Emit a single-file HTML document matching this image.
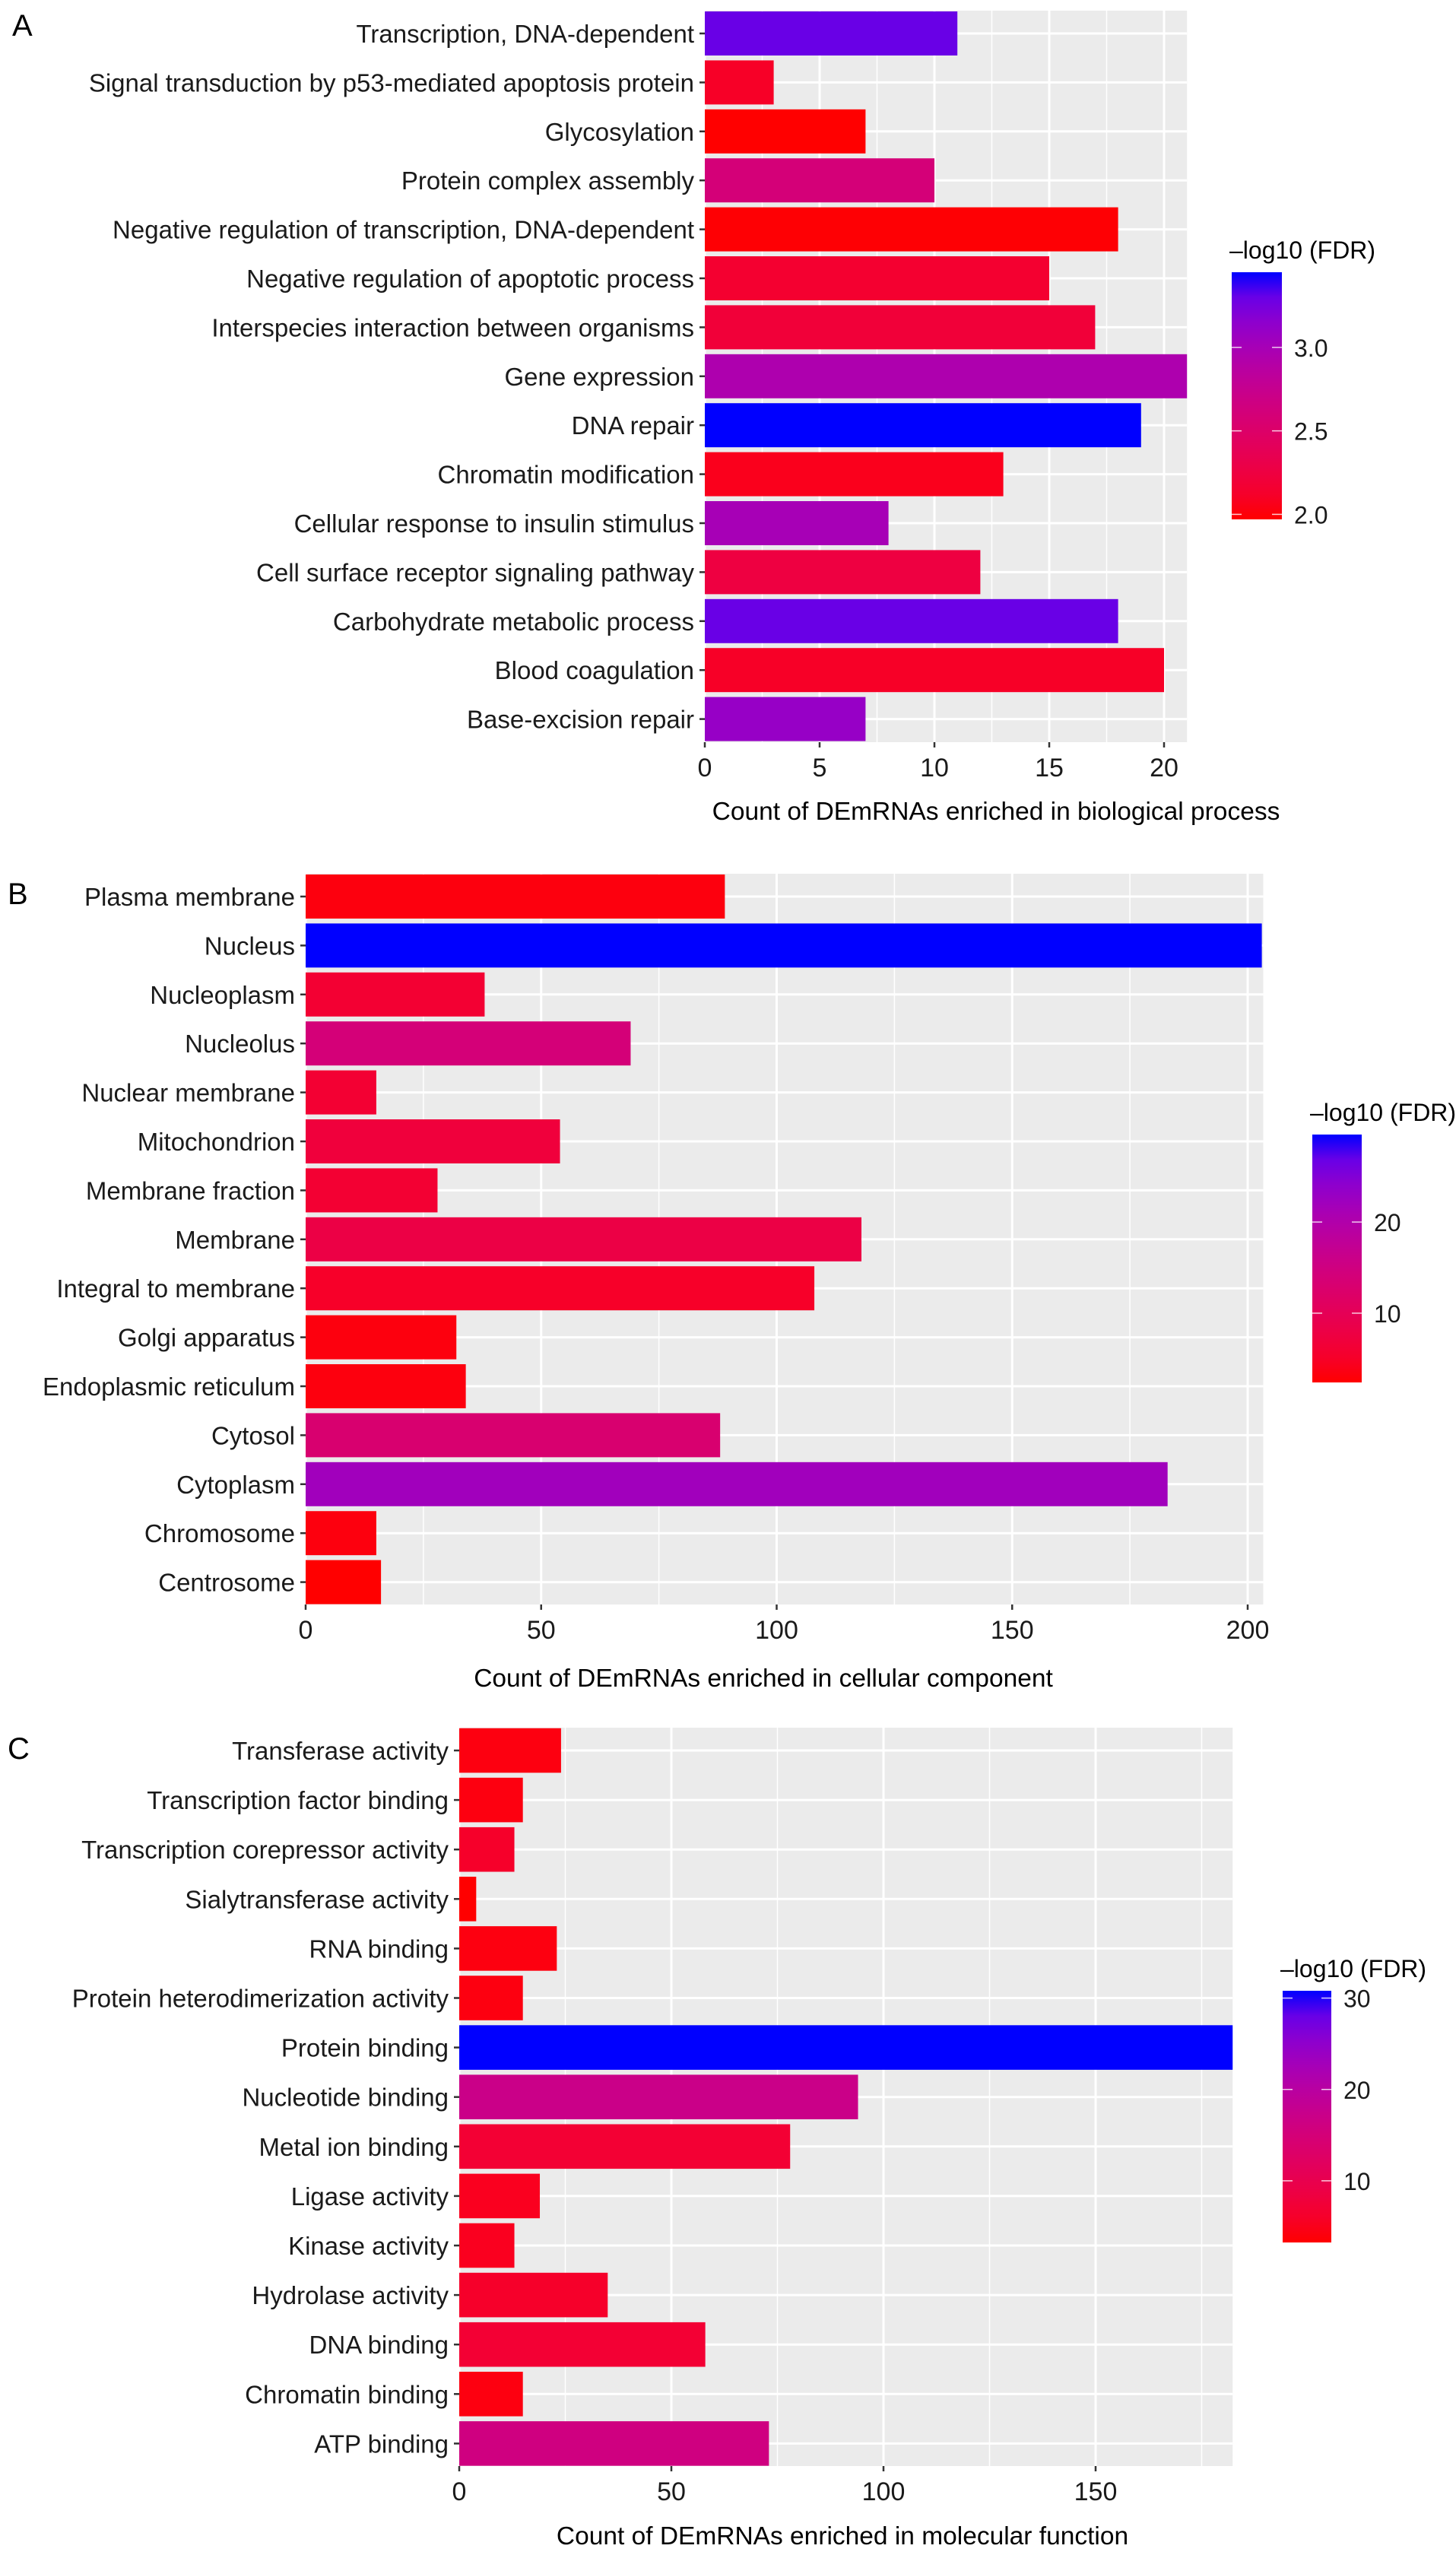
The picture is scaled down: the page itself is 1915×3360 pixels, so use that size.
<!DOCTYPE html>
<html><head><meta charset="utf-8"><style>
html,body{margin:0;padding:0;background:#fff;}
svg{display:block;font-family:"Liberation Sans",Arial,sans-serif;}
</style></head><body>
<svg id="chart" width="1915" height="3360" viewBox="0 0 1915 3360" xmlns="http://www.w3.org/2000/svg">
<rect width="1915" height="3360" fill="#ffffff"/>
<text x="16" y="47" font-size="40" fill="#000">A</text>
<text x="10" y="1189" font-size="40" fill="#000">B</text>
<text x="10" y="2313" font-size="40" fill="#000">C</text>
</svg>
<script>
// ---- Panel A: biological process ----
const bpCategories = ["Transcription, DNA-dependent","Signal transduction by p53-mediated apoptosis protein","Glycosylation","Protein complex assembly","Negative regulation of transcription, DNA-dependent","Negative regulation of apoptotic process","Interspecies interaction between organisms","Gene expression","DNA repair","Chromatin modification","Cellular response to insulin stimulus","Cell surface receptor signaling pathway","Carbohydrate metabolic process","Blood coagulation","Base-excision repair"];
const bpCounts = [11,3,7,10,18,15,17,21,19,13,8,12,18,20,7];
const bpFdr = [3.3,2.1,1.97,2.6,1.98,2.15,2.2,2.95,3.45,2.05,3.0,2.25,3.3,2.1,3.1];
const bpTicks = [0,5,10,15,20];
const bpLegendTicks = [2.0,2.5,3.0];
const bpLegendLabels = ["2.0","2.5","3.0"];
// ---- Panel B: cellular component ----
const ccCategories = ["Plasma membrane","Nucleus","Nucleoplasm","Nucleolus","Nuclear membrane","Mitochondrion","Membrane fraction","Membrane","Integral to membrane","Golgi apparatus","Endoplasmic reticulum","Cytosol","Cytoplasm","Chromosome","Centrosome"];
const ccCounts = [89,203,38,69,15,54,28,118,108,32,34,88,183,15,16];
const ccFdr = [3,29.6,6,14,6,7,6,8,5,3,3,13,22,3,2.4];
const ccTicks = [0,50,100,150,200];
const ccLegendTicks = [10,20];
const ccLegendLabels = ["10","20"];
// ---- Panel C: molecular function ----
const mfCategories = ["Transferase activity","Transcription factor binding","Transcription corepressor activity","Sialytransferase activity","RNA binding","Protein heterodimerization activity","Protein binding","Nucleotide binding","Metal ion binding","Ligase activity","Kinase activity","Hydrolase activity","DNA binding","Chromatin binding","ATP binding"];
const mfCounts = [24,15,13,4,23,15,182.3,94,78,19,13,35,58,15,73];
const mfFdr = [4,4,6,3.25,4,4,30.8,17,7,5,5,6,7,4,16];
const mfTicks = [0,50,100,150];
const mfLegendTicks = [10,20,30];
const mfLegendLabels = ["10","20","30"];

const NS = "http://www.w3.org/2000/svg";
const svg = document.getElementById("chart");
function mk(tag, attrs, parent){ const e=document.createElementNS(NS,tag); for(const k in attrs) e.setAttribute(k,attrs[k]); (parent||svg).appendChild(e); return e; }

function s2l(c){c/=255;return c<=0.04045?c/12.92:Math.pow((c+0.055)/1.055,2.4);}
function l2s(c){c=c<=0.0031308?12.92*c:1.055*Math.pow(c,1/2.4)-0.055;return Math.max(0,Math.min(255,Math.round(c*255)));}
function toLab(r,g,b){r=s2l(r);g=s2l(g);b=s2l(b);
 let X=(r*0.4124+g*0.3576+b*0.1805)/0.95047,Y=(r*0.2126+g*0.7152+b*0.0722),Z=(r*0.0193+g*0.1192+b*0.9505)/1.08883;
 const f=t=>t>0.008856?Math.cbrt(t):7.787*t+16/116; X=f(X);Y=f(Y);Z=f(Z);
 return [116*Y-16,500*(X-Y),200*(Y-Z)];}
function fromLab(L,a,b){let Y=(L+16)/116,X=a/500+Y,Z=Y-b/200;
 const fi=t=>t*t*t>0.008856?t*t*t:(t-16/116)/7.787; X=fi(X)*0.95047;Y=fi(Y);Z=fi(Z)*1.08883;
 const r=X*3.2406+Y*-1.5372+Z*-0.4986,g=X*-0.9689+Y*1.8758+Z*0.0415,bb=X*0.0557+Y*-0.2040+Z*1.0570;
 return "rgb("+l2s(r)+","+l2s(g)+","+l2s(bb)+")";}
const LR=toLab(255,0,0), LB=toLab(0,0,255);
function colorAt(t){t=Math.max(0,Math.min(1,t));return fromLab(LR[0]+(LB[0]-LR[0])*t,LR[1]+(LB[1]-LR[1])*t,LR[2]+(LB[2]-LR[2])*t);}

let gradId=0;
function drawPanel(p, cats, counts, fdr, ticks, lticks, llabels){
  const lo=Math.min(...fdr), hi=Math.max(...fdr);
  const xs=v=>p.x0+v*p.ppu;
  const ys=i=>p.firstY+i*p.spacing;
  const right=xs(p.xmax);
  const g=mk("g",{});
  
  
  const bg=mk("rect",{x:p.x0,y:p.top,width:right-p.x0,height:p.bottom-p.top,fill:"#EBEBEB"},g);
  
  
  const step=ticks[1]-ticks[0];
  for(let v=step/2; v<p.xmax; v+=step){
    const l=mk("line",{x1:xs(v),x2:xs(v),y1:p.top,y2:p.bottom,stroke:"#fff","stroke-width":1.5},g);
    
    
  }
  ticks.forEach(v=>{
    const l=mk("line",{x1:xs(v),x2:xs(v),y1:p.top,y2:p.bottom,stroke:"#fff","stroke-width":3},g);
    
    
  });
  cats.forEach((c,i)=>{
    const l=mk("line",{x1:p.x0,x2:right,y1:ys(i),y2:ys(i),stroke:"#fff","stroke-width":3},g);
    
    
  });
  const bh=p.spacing*0.9;
  cats.forEach((c,i)=>{
    const r=mk("rect",{x:xs(0),y:ys(i)-bh/2,width:xs(counts[i])-xs(0),height:bh,fill:colorAt((fdr[i]-lo)/(hi-lo))},g);
    
    
    const tk=mk("line",{x1:p.x0-7,x2:p.x0,y1:ys(i),y2:ys(i),stroke:"#333","stroke-width":2.5},g);
    
    
    const t=mk("text",{x:p.x0-14,y:ys(i)+12,"font-size":33,"text-anchor":"end",fill:"#1a1a1a"},g);
    t.textContent=c;
    
    
  });
  ticks.forEach(v=>{
    const tk=mk("line",{x1:xs(v),x2:xs(v),y1:p.bottom,y2:p.bottom+7,stroke:"#333","stroke-width":2.5},g);
    
    
    const t=mk("text",{x:xs(v),y:p.bottom+45,"font-size":34,"text-anchor":"middle",fill:"#1a1a1a"},g);
    t.textContent=String(v);
    
    
  });
  const xt=mk("text",{x:p.titleX,y:p.titleY,"font-size":33.5,"text-anchor":"middle",fill:"#000"},g);
  xt.textContent=p.title;
  
  
  const lg=mk("g",{});
  
  
  const lt=mk("text",{x:p.lx-3,y:p.ly0-18,"font-size":32,fill:"#000"},lg);
  lt.textContent="\u2013log10 (FDR)";
  
  
  const id="grad"+(gradId++);
  const defs=mk("defs",{},lg);
  const lgd=mk("linearGradient",{id:id,x1:0,y1:1,x2:0,y2:0},defs);
  for(let k=0;k<=10;k++) mk("stop",{offset:k/10,"stop-color":colorAt(k/10)},lgd);
  const cb=mk("rect",{x:p.lx,y:p.ly0,width:p.lw,height:p.ly1-p.ly0,fill:"url(#"+id+")"},lg);
  
  
  const ly=v=>p.ly1-(v-lo)/(hi-lo)*(p.ly1-p.ly0);
  lticks.forEach((v,k)=>{
    mk("line",{x1:p.lx,x2:p.lx+13,y1:ly(v),y2:ly(v),stroke:"#fff","stroke-width":1.5,opacity:0.8},lg);
    mk("line",{x1:p.lx+p.lw-13,x2:p.lx+p.lw,y1:ly(v),y2:ly(v),stroke:"#fff","stroke-width":1.5,opacity:0.8},lg);
    const t=mk("text",{x:p.lx+p.lw+16,y:ly(v)+12,"font-size":32,fill:"#1a1a1a"},lg);
    t.textContent=llabels[k];
    
    
  });
}
drawPanel({name:"biological-process",x0:927,ppu:30.2,xmax:21,top:14,bottom:976,firstY:44,spacing:64.4,titleX:1310,titleY:1078,title:"Count of DEmRNAs enriched in biological process",lx:1620,lw:66,ly0:358,ly1:683},bpCategories,bpCounts,bpFdr,bpTicks,bpLegendTicks,bpLegendLabels);
drawPanel({name:"cellular-component",x0:402,ppu:6.195,xmax:203.3,top:1149,bottom:2110,firstY:1179,spacing:64.4,titleX:1004,titleY:2218,title:"Count of DEmRNAs enriched in cellular component",lx:1726,lw:65,ly0:1492,ly1:1818},ccCategories,ccCounts,ccFdr,ccTicks,ccLegendTicks,ccLegendLabels);
drawPanel({name:"molecular-function",x0:604,ppu:5.58,xmax:182.3,top:2272,bottom:3243,firstY:2302,spacing:65.1,titleX:1108,titleY:3346,title:"Count of DEmRNAs enriched in molecular function",lx:1687,lw:64,ly0:2618,ly1:2949},mfCategories,mfCounts,mfFdr,mfTicks,mfLegendTicks,mfLegendLabels);
</script>
</body></html>
